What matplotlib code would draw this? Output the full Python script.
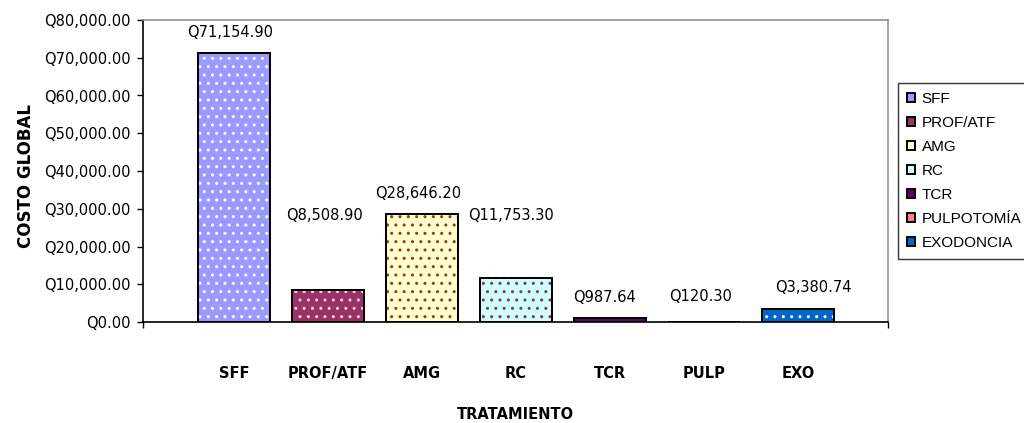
import matplotlib
matplotlib.use('Agg')
import matplotlib.pyplot as plt
import matplotlib.patches as mpatches
from matplotlib.ticker import FuncFormatter, MultipleLocator

# ── datos ────────────────────────────────────────────────────────────────────
CATEGORIAS = ['SFF', 'PROF/ATF', 'AMG', 'RC', 'TCR', 'PULP', 'EXO']
LEYENDA = ['SFF', 'PROF/ATF', 'AMG', 'RC', 'TCR', 'PULPOTOMÍA', 'EXODONCIA']
COSTOS = [71154.90, 8508.90, 28646.20, 11753.30, 987.64, 120.30, 3380.74]
ETIQUETAS = ['Q71,154.90', 'Q8,508.90', 'Q28,646.20', 'Q11,753.30',
             'Q987.64', 'Q120.30', 'Q3,380.74']

# estilos (relleno, color de puntos)
RELLENO = ['#9999FF', '#993366', '#FFFFCC', '#CCFFFF', '#660066', '#FF8080', '#0066CC']
PUNTOS = ['#FFFFFF', '#FFCCEE', '#993333', '#993333', '#CC99CC', '#FFFFFF', '#FFFFFF']

# posición de las etiquetas (colocadas a mano en el original)
ETQ_Y = [76821, 28080, 34172, 28080, 6358, 6887, 9007]
ETQ_DX = [-0.04, -0.04, -0.04, -0.05, -0.06, -0.04, 0.17]

NUM = ['DejaVu Sans']
plt.rcParams['font.family'] = ['Liberation Sans', 'DejaVu Sans']
plt.rcParams['hatch.linewidth'] = 1.0

fig = plt.figure(figsize=(10.24, 4.23), dpi=100)
ax = fig.add_axes([143 / 1024, 1 - 322 / 423, (888 - 143) / 1024, (322 - 20) / 423])

x = list(range(len(CATEGORIAS)))
ancho = 0.77
ax.bar(x, COSTOS, width=ancho, color=RELLENO, edgecolor='black', linewidth=1.4, zorder=2)
for xi, v, c in zip(x, COSTOS, PUNTOS):
    ax.bar(xi, v, width=ancho - 0.03, facecolor='none', edgecolor=c, linewidth=0,
           hatch='..', zorder=3)
# borde otra vez encima de los puntos
ax.bar(x, COSTOS, width=ancho, facecolor='none', edgecolor='black', linewidth=1.4, zorder=4)

for xi, ty, dx, txt in zip(x, ETQ_Y, ETQ_DX, ETIQUETAS):
    ax.text(xi + dx, ty, txt, ha='center', va='center', fontsize=10.5, family=NUM)

ax.set_xlim(-0.97, 6.96)
ax.set_ylim(0, 80000)
ax.yaxis.set_major_locator(MultipleLocator(10000))
ax.yaxis.set_major_formatter(FuncFormatter(lambda v, p: f'Q{v:,.2f}'))
ax.tick_params(axis='y', direction='out', length=4, width=1, labelsize=10.5, pad=5)
for t in ax.get_yticklabels():
    t.set_family(NUM)

ax.set_xticks(x)
ax.set_xticklabels(CATEGORIAS, fontweight='bold', fontsize=10.5, family=NUM)
ax.tick_params(axis='x', length=0, pad=32)
ax.set_xticks([-0.97, 6.96], minor=True)
ax.tick_params(axis='x', which='minor', direction='out', length=4, width=1)

for s in ['left', 'bottom']:
    ax.spines[s].set_color('black')
    ax.spines[s].set_linewidth(1.2)
for s in ['top', 'right']:
    ax.spines[s].set_color('#909090')
    ax.spines[s].set_linewidth(1.2)

fig.text(26 / 1024, 1 - 176 / 423, 'COSTO GLOBAL', rotation=90, ha='center', va='center',
         fontweight='bold', fontsize=12, family=NUM)
fig.text(515 / 1024, 1 - 414 / 423, 'TRATAMIENTO', ha='center', va='center',
         fontweight='bold', fontsize=10.5, family=NUM)

handles = [mpatches.Patch(facecolor=c, edgecolor='black', linewidth=1.4, label=l)
           for c, l in zip(RELLENO, LEYENDA)]
leg = fig.legend(handles=handles, loc='upper left',
                 bbox_to_anchor=(898 / 1024, 1 - 83 / 423),
                 fontsize=11, frameon=True, fancybox=False, edgecolor='black',
                 handlelength=0.5, handleheight=0.5, handletextpad=0.45,
                 labelspacing=0.65, borderpad=0.6, borderaxespad=0)
leg.get_frame().set_linewidth(1.0)

plt.savefig('out.png', dpi=100)
